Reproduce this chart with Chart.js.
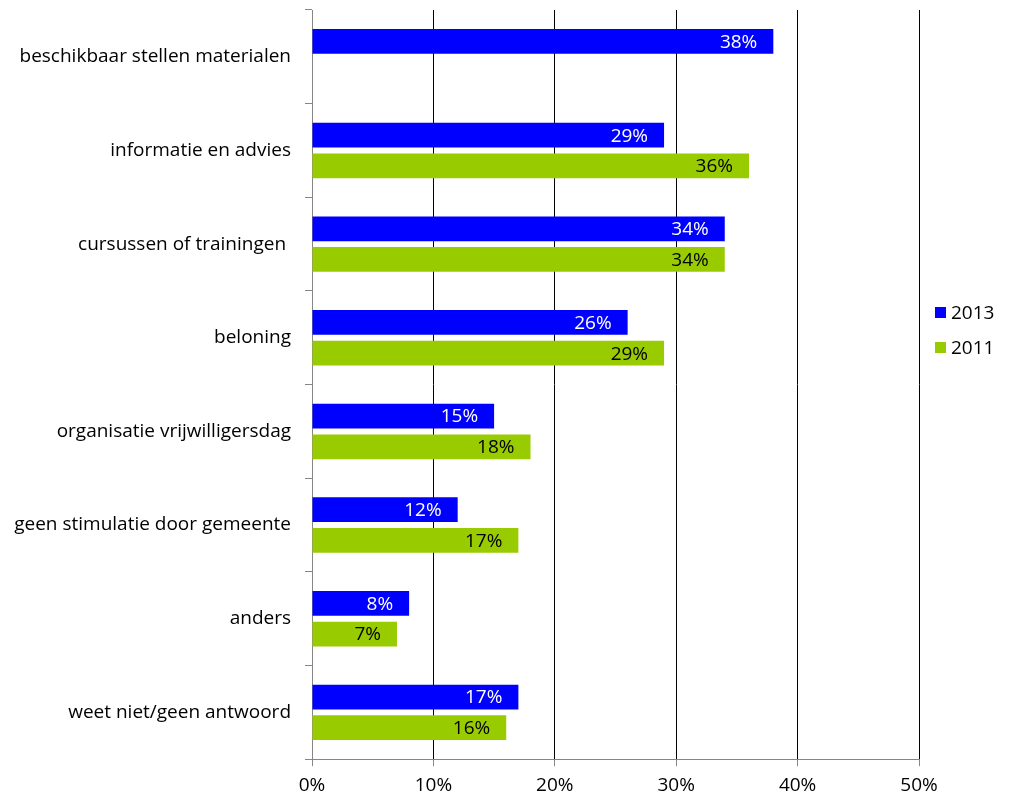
<!DOCTYPE html>
<html>
<head>
<meta charset="utf-8">
<script src="https://cdn.jsdelivr.net/npm/chart.js@4/dist/chart.umd.min.js"></script>
<style>
    html, body { margin: 0; padding: 0; background: #fff; }
    #wrap { width: 1027px; height: 805px; }
</style>
</head>
<body>
<div id="wrap"><canvas id="statsChart" width="1027" height="805"></canvas></div>
<script>
const categories = [
    'beschikbaar stellen materialen',
    'informatie en advies',
    'cursussen of trainingen ',
    'beloning',
    'organisatie vrijwilligersdag',
    'geen stimulatie door gemeente',
    'anders',
    'weet niet/geen antwoord'
];
const values2013 = [38, 29, 34, 26, 15, 12, 8, 17];
const values2011 = [null, 36, 34, 29, 18, 17, 7, 16];
const seriesLabels = ['2013', '2011'];
const seriesColors = ['#0000ff', '#99cc00'];
const labelColors = ['#ffffff', '#000000'];
const xTicks = [0, 10, 20, 30, 40, 50];

const FONT = '"Open Sans", sans-serif';
const FSIZE = 19;

// values written inside the end of each bar
const barValueLabels = {
    id: 'barValueLabels',
    afterDatasetsDraw(chart) {
        const c = chart.ctx;
        c.save();
        c.font = FSIZE + 'px ' + FONT;
        c.textAlign = 'right';
        c.textBaseline = 'middle';
        chart.data.datasets.forEach((ds, i) => {
            const meta = chart.getDatasetMeta(i);
            meta.data.forEach((bar, j) => {
                const v = ds.data[j];
                if (v === null || v === undefined) return;
                c.fillStyle = labelColors[i];
                c.fillText(v + '%', bar.x - 16, bar.y + 1);
            });
        });
        c.restore();
    }
};

// simple legend to the right of the plot
const sideLegend = {
    id: 'sideLegend',
    afterDraw(chart) {
        const c = chart.ctx;
        const area = chart.chartArea;
        c.save();
        c.font = FSIZE + 'px ' + FONT;
        c.textAlign = 'left';
        c.textBaseline = 'middle';
        chart.data.datasets.forEach((ds, i) => {
            const y = 313 + i * 35;
            const x = area.right + 16;
            c.fillStyle = ds.backgroundColor;
            c.fillRect(x, y - 6, 11, 11);
            c.fillStyle = '#000';
            c.fillText(ds.label, x + 16, y + 1);
        });
        c.restore();
    }
};

const ctx = document.getElementById('statsChart').getContext('2d');
new Chart(ctx, {
    type: 'bar',
    data: {
        labels: categories,
        datasets: [{
            label: seriesLabels[0],
            data: values2013,
            backgroundColor: seriesColors[0]
        }, {
            label: seriesLabels[1],
            data: values2011,
            backgroundColor: seriesColors[1]
        }]
    },
    options: {
        indexAxis: 'y',
        responsive: false,
        animation: false,
        categoryPercentage: 0.656,
        barPercentage: 0.806,
        layout: {
            padding: { top: 10, right: 108, left: 10, bottom: 0 }
        },
        plugins: {
            legend: { display: false },
            tooltip: { enabled: false }
        },
        scales: {
            x: {
                min: 0,
                max: 50,
                afterBuildTicks: axis => {
                    axis.ticks = xTicks.map(v => ({ value: v }));
                },
                ticks: {
                    callback: v => v + '%',
                    color: '#000',
                    padding: 8,
                    font: { family: FONT, size: FSIZE }
                },
                grid: {
                    color: c => c.index === 0 ? '#868686' : '#000000',
                    lineWidth: 1,
                    tickLength: 7,
                    tickColor: '#868686'
                },
                border: { color: '#868686' }
            },
            y: {
                afterFit: scale => {
                    scale.width = 302;
                    scale.paddingTop = 0;
                    scale.paddingBottom = 0;
                },
                ticks: {
                    color: '#000',
                    padding: 14,
                    font: { family: FONT, size: FSIZE }
                },
                grid: {
                    drawOnChartArea: false,
                    tickLength: 7,
                    color: '#868686'
                },
                border: { color: '#868686' }
            }
        }
    },
    plugins: [barValueLabels, sideLegend]
});
</script>
</body>
</html>
